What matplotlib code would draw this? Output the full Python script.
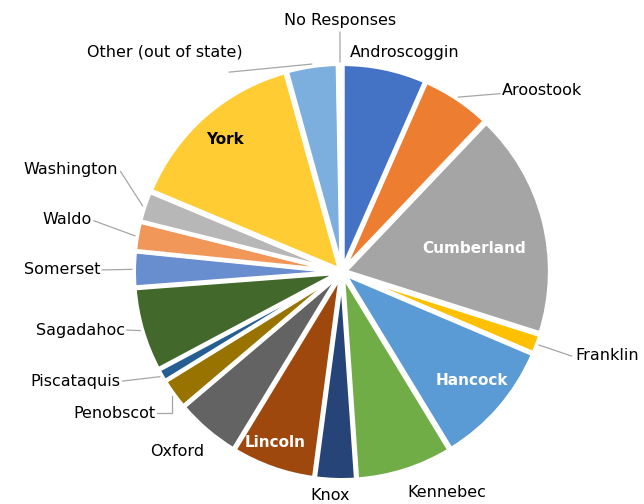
import numpy as np
import matplotlib
matplotlib.use("Agg")
import matplotlib.pyplot as plt

counties = ['Androscoggin', 'Aroostook', 'Cumberland', 'Franklin', 'Hancock',
            'Kennebec', 'Knox', 'Lincoln', 'Oxford', 'Penobscot', 'Piscataquis',
            'Sagadahoc', 'Somerset', 'Waldo', 'Washington', 'York',
            'Other (out of state)', 'No Responses']
shares = [6.6, 5.5, 17.8, 1.5, 9.9, 7.6, 3.2, 6.6, 5.1, 2.4, 1.0,
          6.6, 2.8, 2.3, 2.4, 14.4, 4.0, 0.3]
colors = ['#4472C4', '#ED7D31', '#A5A5A5', '#FFC000', '#5B9BD5', '#70AD47',
          '#264478', '#9E480E', '#636363', '#997300', '#255E91', '#43682B',
          '#698ED0', '#F1975A', '#B7B7B7', '#FFCD33', '#7CAFDD', '#8CC168']

# label layout: (x, y, ha, leader end or None, inside colour or None)
layout = {
    'Androscoggin': (0.039, 1.073, 'left', None, None),
    'Aroostook': (0.78, 0.883, 'left', (0.77, 0.87), None),
    'Cumberland': (0.644, 0.117, 'center', None, 'white'),
    'Franklin': (1.137, -0.405, 'left', (1.12, -0.41), None),
    'Hancock': (0.634, -0.527, 'center', None, 'white'),
    'Kennebec': (0.512, -1.078, 'center', None, None),
    'Knox': (-0.059, -1.088, 'center', None, None),
    'Lincoln': (-0.327, -0.834, 'center', None, 'white'),
    'Oxford': (-0.805, -0.878, 'center', None, None),
    'Penobscot': (-0.912, -0.688, 'right', (-0.9, -0.688), None),
    'Piscataquis': (-1.083, -0.532, 'right', (-1.07, -0.532), None),
    'Sagadahoc': (-1.059, -0.283, 'right', (-1.05, -0.283), None),
    'Somerset': (-1.18, 0.01, 'right', (-1.17, 0.01), None),
    'Waldo': (-1.22, 0.254, 'right', (-1.21, 0.25), None),
    'Washington': (-1.093, 0.498, 'right', (-1.08, 0.49), None),
    'York': (-0.571, 0.644, 'center', None, 'black'),
    'Other (out of state)': (-0.863, 1.073, 'center', (-0.55, 0.975), None),
    'No Responses': (-0.01, 1.229, 'center', (-0.01, 1.17), None),
}

fig = plt.figure(figsize=(6.44, 5.04), dpi=100)
ax = fig.add_axes([0, 0, 1, 1])
wedges, _ = ax.pie(shares, colors=colors, startangle=90, counterclock=False,
                   explode=[0.015] * len(shares),
                   wedgeprops=dict(edgecolor='white', linewidth=3))

for w, name in zip(wedges, counties):
    x, y, ha, lead, inside = layout[name]
    if inside is not None:
        ax.text(x, y, name, ha='center', va='center', fontsize=11,
                fontweight='bold', color=inside)
        continue
    ax.text(x, y, name, ha=ha, va='center', fontsize=11.5, color='black')
    if lead is not None:
        mid = np.deg2rad((w.theta1 + w.theta2) / 2)
        r = w.r + 0.01
        sx = w.center[0] + r * np.cos(mid)
        sy = w.center[1] + r * np.sin(mid)
        if name == 'Penobscot':
            ax.plot([sx, sx, lead[0]], [sy, lead[1], lead[1]],
                    color='#a6a6a6', lw=0.9)
        else:
            ax.plot([sx, lead[0]], [sy, lead[1]], color='#a6a6a6', lw=0.9)

ax.set_xlim((0 - 342) / 205, (644 - 342) / 205)
ax.set_ylim((272 - 504) / 205, 272 / 205)
ax.set_aspect('equal')
ax.axis('off')
fig.savefig('out.png', dpi=100)
